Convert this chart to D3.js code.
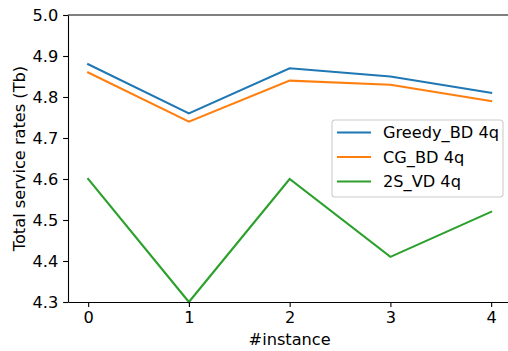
<!DOCTYPE html>
<html>
<head>
<meta charset="utf-8">
<script src="https://cdn.jsdelivr.net/npm/d3@7"></script>
<style>
  html, body { margin: 0; background: #fff; overflow: hidden; }
  svg { display: block; font-family: "DejaVu Sans", sans-serif; }
</style>
</head>
<body>
<svg id="chart" width="508" height="351"></svg>
<script>
// values
const instances = [0, 1, 2, 3, 4];
const greedyBD = [4.88, 4.76, 4.87, 4.85, 4.81];
const cgBD = [4.86, 4.74, 4.84, 4.83, 4.79];
const svd2S = [4.60, 4.30, 4.60, 4.41, 4.52];
const yTicks = [4.3, 4.4, 4.5, 4.6, 4.7, 4.8, 4.9, 5.0];

const series = [
  { name: 'Greedy_BD 4q', values: greedyBD, color: '#1f77b4' },
  { name: 'CG_BD 4q', values: cgBD, color: '#ff7f0e' },
  { name: '2S_VD 4q', values: svd2S, color: '#2ca02c' }
];

const svg = d3.select('#chart');
const plotLeft = 68, plotTop = 15, plotBottom = 302;
const unit = 100.75;
const plotRight = plotLeft + 4.4 * unit;   // falls just past the picture's right edge
const fontSize = '16.2px';

const x = d3.scaleLinear().domain([-0.2, 4.2]).range([plotLeft, plotRight]);
const y = d3.scaleLinear().domain([4.3, 5.0]).range([plotBottom, plotTop]);

// lines
const line = d3.line()
  .x((d, i) => x(instances[i]))
  .y(d => y(d));

svg.append('g').selectAll('path')
  .data(series)
  .enter().append('path')
  .attr('d', d => line(d.values))
  .attr('fill', 'none')
  .attr('stroke', d => d.color)
  .attr('stroke-width', 2.1)
  .attr('stroke-linecap', 'square');

// axes
const xAxis = d3.axisBottom(x).tickValues(instances).tickFormat(d3.format('d'))
  .tickSizeInner(4.9).tickSizeOuter(0).tickPadding(4.9);
const yAxis = d3.axisLeft(y).tickValues(yTicks).tickFormat(d3.format('.1f'))
  .tickSizeInner(4.9).tickSizeOuter(0).tickPadding(4.9);

const gx = svg.append('g').attr('transform', `translate(0,${plotBottom})`).call(xAxis);
const gy = svg.append('g').attr('transform', `translate(${plotLeft},0)`).call(yAxis);

[gx, gy].forEach(g => {
  g.selectAll('text').attr('font-size', fontSize).attr('fill', '#000')
    .attr('font-family', '"DejaVu Sans", sans-serif');
  g.selectAll('line').attr('stroke', '#000').attr('stroke-width', 1.1);
  g.select('.domain').attr('stroke', '#000').attr('stroke-width', 1.1);
});

// top spine
svg.append('line')
  .attr('x1', plotLeft).attr('x2', plotRight).attr('y1', plotTop).attr('y2', plotTop)
  .attr('stroke', '#000').attr('stroke-width', 1.1);

// axis labels
svg.append('text')
  .attr('x', (plotLeft + plotRight) / 2).attr('y', 345)
  .attr('text-anchor', 'middle').attr('font-size', fontSize)
  .text('#instance');

svg.append('text')
  .attr('transform', `translate(25,${(plotTop + plotBottom) / 2}) rotate(-90)`)
  .attr('text-anchor', 'middle').attr('font-size', fontSize)
  .text('Total service rates (Tb)');

// legend
const legend = svg.append('g').attr('transform', 'translate(332,120)');
legend.append('rect')
  .attr('width', 171).attr('height', 77).attr('rx', 3)
  .attr('fill', '#fff').attr('fill-opacity', 0.8)
  .attr('stroke', '#ccc').attr('stroke-width', 1.1);

const rows = legend.selectAll('g.row')
  .data(series)
  .enter().append('g')
  .attr('class', 'row')
  .attr('transform', (d, i) => `translate(0,${12.5 + i * 24.5})`);

rows.append('line')
  .attr('x1', 5).attr('x2', 39)
  .attr('stroke', d => d.color).attr('stroke-width', 2.1);
rows.append('text')
  .attr('x', 51).attr('dy', '0.35em')
  .attr('font-size', fontSize)
  .text(d => d.name);
</script>
</body>
</html>
